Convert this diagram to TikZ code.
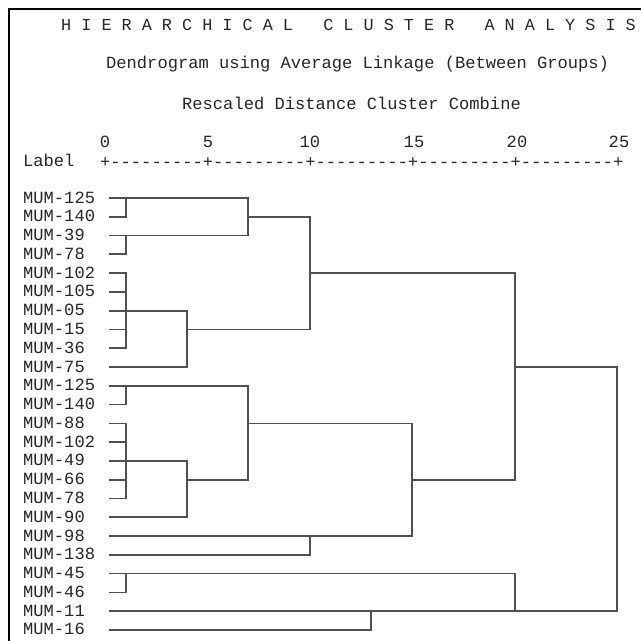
\documentclass[tikz,border=0pt]{standalone}
\usepackage{fontspec}
\newfontfamily\spssmono{Liberation Mono}
\definecolor{txtc}{HTML}{262626}
\definecolor{linec}{HTML}{505050}
\tikzset{
  mono/.style={font=\spssmono\fontsize{17.1}{20}\selectfont, text=txtc, inner sep=0pt, anchor=base west},
  numlab/.style={font=\spssmono\fontsize{17.1}{20}\selectfont, text=txtc, inner sep=0pt, anchor=base},
  den/.style={draw=linec, line width=1.7pt, line cap=rect},
  frame/.style={draw=black, line width=2.6pt}
}
\begin{document}
\begin{tikzpicture}[x=1pt,y=-1pt]
\useasboundingbox (0,0) rectangle (641,641);
\fill[white] (0,0) rectangle (641,641);
% frame
\coordinate (fc) at (9,9);
\coordinate (ftr) at (642,9);
\coordinate (fbl) at (9,642);
\draw[frame] (fbl) -- (fc) -- (ftr);
% titles
\node[mono, font=\spssmono\fontsize{16.8}{20}\selectfont] (title) at (61,30) {H~I~E~R~A~R~C~H~I~C~A~L~~~C~L~U~S~T~E~R~~~A~N~A~L~Y~S~I~S};
\node[mono] (sub1) at (106,68) {Dendrogram~using~Average~Linkage~(Between~Groups)};
\node[mono] (sub2) at (182,109) {Rescaled~Distance~Cluster~Combine};
% axis
\node[numlab] (t0) at (105,147) {0};
\node[numlab] (t5) at (208,147) {5};
\node[numlab] (t10) at (310,147) {10};
\node[numlab] (t15) at (414,147) {15};
\node[numlab] (t20) at (517,147) {20};
\node[numlab] (t25) at (619,147) {25};
\node[mono] (lab) at (23,166) {Label};
\node[mono] (axis) at (100,167) {+---------+---------+---------+---------+---------+};
% leaves
\foreach \i/\nm in {0/MUM-125,1/MUM-140,2/MUM-39,3/MUM-78,4/MUM-102,5/MUM-105,6/MUM-05,7/MUM-15,8/MUM-36,9/MUM-75,10/MUM-125,11/MUM-140,12/MUM-88,13/MUM-102,14/MUM-49,15/MUM-66,16/MUM-78,17/MUM-90,18/MUM-98,19/MUM-138,20/MUM-45,21/MUM-46,22/MUM-11,23/MUM-16}{
  \node[mono] (n\i) at (23,{198+18.78*\i+5}) {\nm};
  \coordinate (l\i) at (110,{198+18.78*\i});
}
% merge levels
\coordinate (v1) at (126,0);
\coordinate (v4) at (187,0);
\coordinate (v7) at (248,0);
\coordinate (v10) at (310,0);
\coordinate (v13) at (371,0);
\coordinate (v15) at (412,0);
\coordinate (v20) at (515,0);
\coordinate (v25) at (617,0);
% cluster A
\draw[den] (l0) -- (l0 -| v7);
\draw[den] (l1) -- (l1 -| v1);
\draw[den] (l0 -| v1) -- (l1 -| v1);
\draw[den] (l2) -- (l2 -| v7);
\draw[den] (l3) -- (l3 -| v1);
\draw[den] (l2 -| v1) -- (l3 -| v1);
\draw[den] (l0 -| v7) -- (l2 -| v7);
\draw[den] (l1 -| v7) -- (l1 -| v10);
\foreach \i in {4,5,7,8}{\draw[den] (l\i) -- (l\i -| v1);}
\draw[den] (l6) -- (l6 -| v4);
\draw[den] (l4 -| v1) -- (l8 -| v1);
\draw[den] (l9) -- (l9 -| v4);
\draw[den] (l6 -| v4) -- (l9 -| v4);
\draw[den] (l7 -| v4) -- (l7 -| v10);
\draw[den] (l1 -| v10) -- (l7 -| v10);
\draw[den] (l4 -| v10) -- (l4 -| v20);
% cluster B
\draw[den] (l10) -- (l10 -| v7);
\draw[den] (l11) -- (l11 -| v1);
\draw[den] (l10 -| v1) -- (l11 -| v1);
\foreach \i in {12,13,15,16}{\draw[den] (l\i) -- (l\i -| v1);}
\draw[den] (l14) -- (l14 -| v4);
\draw[den] (l12 -| v1) -- (l16 -| v1);
\draw[den] (l17) -- (l17 -| v4);
\draw[den] (l14 -| v4) -- (l17 -| v4);
\draw[den] (l15 -| v4) -- (l15 -| v7);
\draw[den] (l10 -| v7) -- (l15 -| v7);
\draw[den] (l12 -| v7) -- (l12 -| v15);
\draw[den] (l18) -- (l18 -| v15);
\draw[den] (l19) -- (l19 -| v10);
\draw[den] (l18 -| v10) -- (l19 -| v10);
\draw[den] (l12 -| v15) -- (l18 -| v15);
\draw[den] (l15 -| v15) -- (l15 -| v20);
\draw[den] (l4 -| v20) -- (l15 -| v20);
\draw[den] (l9 -| v20) -- (l9 -| v25);
% cluster C
\draw[den] (l20) -- (l20 -| v20);
\draw[den] (l21) -- (l21 -| v1);
\draw[den] (l20 -| v1) -- (l21 -| v1);
\draw[den] (l22) -- (l22 -| v25);
\draw[den] (l23) -- (l23 -| v13);
\draw[den] (l22 -| v13) -- (l23 -| v13);
\draw[den] (l20 -| v20) -- (l22 -| v20);
\draw[den] (l9 -| v25) -- (l22 -| v25);
\end{tikzpicture}
\end{document}
